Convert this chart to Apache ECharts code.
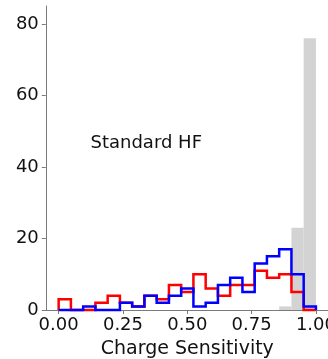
<!DOCTYPE html>
<html>
<head>
<meta charset="utf-8">
<script src="https://cdn.jsdelivr.net/npm/echarts@6/dist/echarts.min.js"></script>
<style>
  html, body { margin: 0; padding: 0; background: #fff; }
  #chart { width: 328px; height: 359px; }
</style>
</head>
<body>
<div id="chart"></div>
<script>
// Histogram of charge sensitivity, 21 equal bins over [0, 1]
const binCount = 21;
const binLo = 0;
const binHi = 1;

// Counts per bin (left to right)
const redCounts  = [3, 0, 0, 2, 4, 2, 1, 4, 3, 7, 5, 10, 6, 4, 7, 7, 11, 9, 10, 5, 0];
const blueCounts = [0, 0, 1, 0, 0, 2, 1, 4, 2, 4, 6, 1, 2, 7, 9, 5, 13, 15, 17, 10, 1];
const grayCounts = [0, 0, 0, 0, 0, 0, 0, 0, 0, 0, 0, 0, 0, 0, 0, 0, 0, 0, 1, 23, 76];

// Axis ticks
const xTicks = [0, 0.25, 0.5, 0.75, 1.0];
const yTicks = [0, 20, 40, 60, 80];

const annotation = 'Standard HF';
const xTitle = 'Charge Sensitivity';

// Bin edges
const edges = [];
for (let k = 0; k <= binCount; k++) edges.push(binLo + (binHi - binLo) * k / binCount);

// Outline of a step histogram: up from zero at the first edge, across each bin, down at the last edge
function stepOutline(counts) {
  const pts = [[edges[0], 0]];
  counts.forEach((c, k) => {
    pts.push([edges[k], c]);
    pts.push([edges[k + 1], c]);
  });
  pts.push([edges[counts.length], 0]);
  return pts;
}

// Filled bars: [left edge, right edge, count]
const grayBars = grayCounts
  .map((c, k) => [edges[k], edges[k + 1], c])
  .filter(d => d[2] > 0);

const FONT = 'DejaVu Sans';
const axisColor = '#7a7a7a';

const chart = echarts.init(document.getElementById('chart'), null, { renderer: 'canvas' });

chart.setOption({
  animation: false,
  backgroundColor: '#ffffff',
  grid: { left: 45.8, top: 6, width: 283, height: 304, containLabel: false, outerBoundsMode: 'none' },
  xAxis: {
    type: 'value',
    min: -0.05,
    max: 1.05,
    name: xTitle,
    nameLocation: 'middle',
    nameGap: 30,
    nameTextStyle: { fontFamily: FONT, fontSize: 19, color: '#111' },
    splitLine: { show: false },
    axisLine: { show: true, onZero: false, lineStyle: { color: axisColor, width: 1 } },
    axisTick: { show: true, length: 4, customValues: xTicks, lineStyle: { color: axisColor, width: 1 } },
    axisLabel: {
      customValues: xTicks,
      margin: 6,
      fontFamily: FONT,
      fontSize: 18,
      color: '#111',
      hideOverlap: false,
      formatter: v => v.toFixed(2)
    }
  },
  yAxis: {
    type: 'value',
    min: 0,
    max: 85,
    splitLine: { show: false },
    axisLine: { show: true, onZero: false, lineStyle: { color: axisColor, width: 1 } },
    axisTick: { show: true, length: 4, customValues: yTicks, lineStyle: { color: axisColor, width: 1 } },
    axisLabel: {
      customValues: yTicks,
      margin: 7,
      fontFamily: FONT,
      fontSize: 18,
      color: '#111'
    }
  },
  graphic: [{
    type: 'text',
    left: 90.5,
    top: 134,
    style: { text: annotation, fontFamily: FONT, fontSize: 18, fill: '#111' }
  }],
  series: [
    {
      type: 'custom',
      z: 1,
      data: grayBars,
      encode: { x: [0, 1], y: 2 },
      renderItem: (params, api) => {
        const p0 = api.coord([api.value(0), api.value(2)]);
        const p1 = api.coord([api.value(1), 0]);
        return {
          type: 'rect',
          shape: { x: p0[0], y: p0[1], width: p1[0] - p0[0], height: p1[1] - p0[1] },
          style: { fill: '#d3d3d3' }
        };
      }
    },
    {
      type: 'line',
      z: 2,
      data: stepOutline(redCounts),
      showSymbol: false,
      clip: false,
      lineStyle: { color: '#ff0000', width: 2.5, join: 'miter' }
    },
    {
      type: 'line',
      z: 3,
      data: stepOutline(blueCounts),
      showSymbol: false,
      clip: false,
      lineStyle: { color: '#0000ff', width: 2.5, join: 'miter' }
    }
  ]
});
</script>
</body>
</html>
